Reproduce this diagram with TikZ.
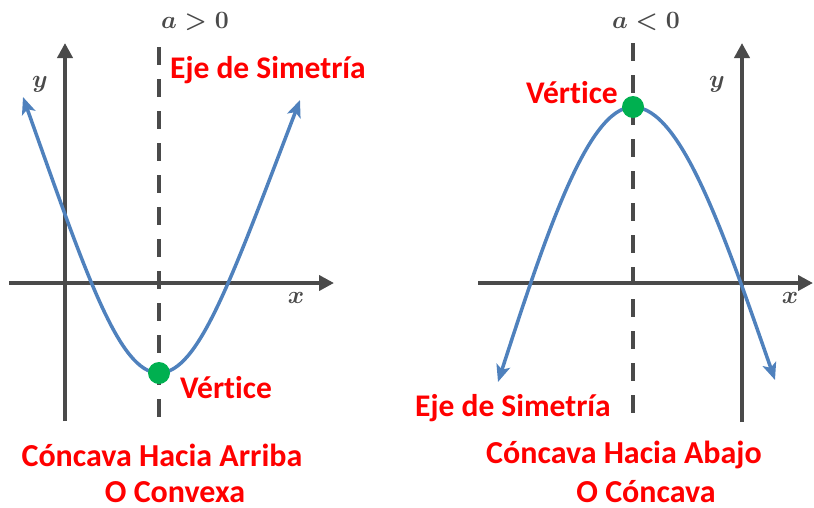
\documentclass[tikz,border=0pt]{standalone}
\usepackage{fontspec}
\setmainfont{Carlito}[Ligatures=NoCommon]
\usetikzlibrary{arrows.meta}
\definecolor{axisgray}{HTML}{4A4A4A}
\definecolor{curveblue}{HTML}{4F81BD}
\definecolor{dotgreen}{HTML}{00B050}
\definecolor{lblred}{HTML}{FF0000}
\begin{document}
\begin{tikzpicture}[x=1pt,y=-1pt,
  axisline/.style={draw=axisgray,line width=4pt,-{Triangle[length=15pt,width=15pt]}},
  symline/.style={draw=axisgray,line width=4pt,dash pattern=on 18pt off 14pt},
  curve/.style={draw=curveblue,line width=3.5pt,line cap=round,
    {Stealth[length=17pt,width=14pt,inset=4pt]}-{Stealth[length=17pt,width=14pt,inset=4pt]}},
  vdot/.style={circle,fill=dotgreen,minimum size=22pt,inner sep=0pt},
  redlbl/.style={text=lblred,font=\fontsize{31.5}{34}\selectfont\bfseries,inner sep=0pt},
  botlbl/.style={text=lblred,font=\fontsize{32}{34}\selectfont\bfseries,inner sep=0pt},
  mathlbl/.style={text=axisgray,font=\fontsize{33}{34}\selectfont\boldmath,inner sep=0pt},
  toplbl/.style={text=axisgray,font=\fontsize{30}{32}\selectfont\boldmath,inner sep=0pt}
]
\useasboundingbox (0,0) rectangle (814,507);

% ---------- left graph ----------
\coordinate (lyb) at (65,421);
\coordinate (lyt) at (65,43);
\coordinate (lxl) at (9,283);
\coordinate (lxr) at (334,283);
\coordinate (lst) at (159,47);
\coordinate (lsb) at (159,423);
\coordinate (lcl) at (23,97);
\coordinate (lcr) at (300,100);
\draw[axisline] (lyb) -- (lyt);
\draw[axisline] (lxl) -- (lxr);
\draw[symline] (lst) -- (lsb);
\draw[curve] (lcl) .. controls (86,274) and (119,373) .. (159,373)
  .. controls (199,373) and (232,277) .. (lcr);
\node[vdot] (lv) at (159,373) {};
\node[mathlbl] (ly) at (40,84) {$y$};
\node[mathlbl] (lx) at (296,298) {$x$};
\node[toplbl] (la) at (195,22) {$a>0$};
\node[redlbl,anchor=west] (lejelbl) at (170,70) {Eje de Simetría};
\node[redlbl,anchor=west] (lvlbl) at (180,388) {Vértice};
\node[botlbl] (lb1) at (162,455) {Cóncava Hacia Arriba};
\node[botlbl] (lb2) at (175,492) {O Convexa};

% ---------- right graph ----------
\coordinate (ryb) at (742,422);
\coordinate (ryt) at (742,43);
\coordinate (rxl) at (478,283);
\coordinate (rxr) at (813,283);
\coordinate (rst) at (633,43);
\coordinate (rsb) at (633,422);
\coordinate (rcl) at (498,382);
\coordinate (rcr) at (775,380);
\draw[axisline] (ryb) -- (ryt);
\draw[axisline] (rxl) -- (rxr);
\draw[symline] (rst) -- (rsb);
\draw[curve] (rcl) .. controls (546,234) and (588,107) .. (633,107)
  .. controls (681,107) and (724,234) .. (rcr);
\node[vdot] (rv) at (633,107) {};
\node[mathlbl] (ry) at (717,84) {$y$};
\node[mathlbl] (rx) at (790,298) {$x$};
\node[toplbl] (ra) at (646,22) {$a<0$};
\node[redlbl,anchor=east] (rvlbl) at (618,93) {Vértice};
\node[redlbl] (rejelbl) at (513,408) {Eje de Simetría};
\node[botlbl] (rb1) at (624,455) {Cóncava Hacia Abajo};
\node[botlbl] (rb2) at (646,492) {O Cóncava};
\end{tikzpicture}
\end{document}
